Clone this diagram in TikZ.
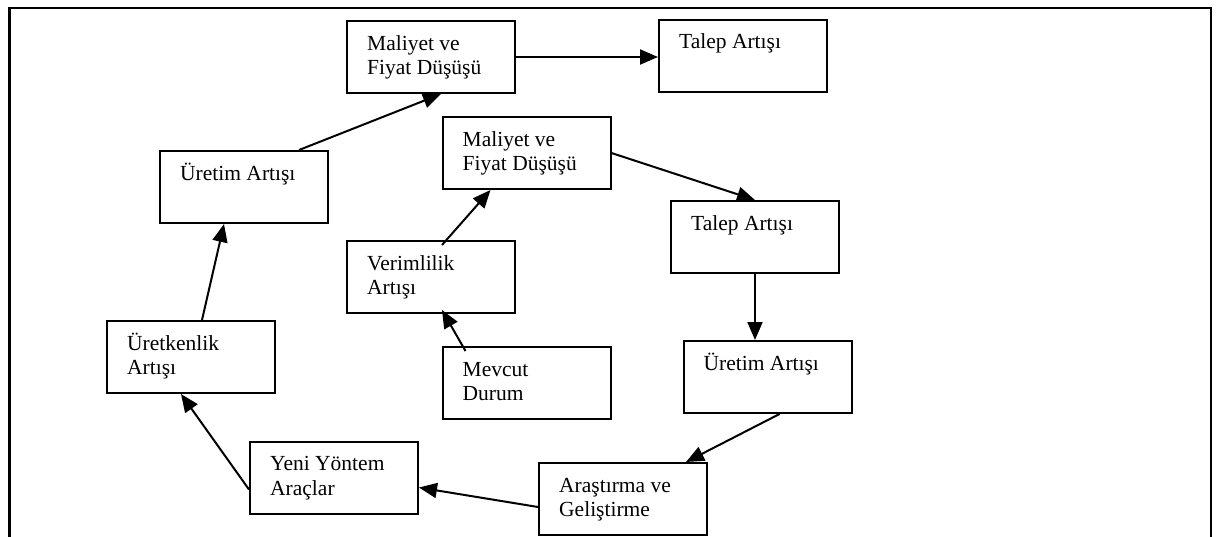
\documentclass[tikz,border=0pt]{standalone}
\usepackage{fontspec}
\setmainfont{Liberation Serif}
\usetikzlibrary{arrows.meta}
\newcommand\mylines[1]{\begin{tabular}[t]{@{}l@{}}#1\end{tabular}}
\tikzset{
  box/.style={draw, line width=2pt, minimum width=168pt, minimum height=72pt, inner sep=0pt},
  txt/.style={anchor=base west, inner sep=0pt, font=\fontsize{21.5}{24.5}\selectfont},
  arr/.style={line width=2pt, -{Triangle[length=18pt,width=15pt]}},
  frame/.style={line width=2.2pt}
}
\begin{document}
\begin{tikzpicture}[x=1pt,y=-1pt]
\useasboundingbox (0,0) rectangle (1217,536);
\draw[frame] (9.5,545) -- (9.5,8) -- (1211,8) -- (1211,545);
% boxes
\node[box] (mt) at (431,57) {};
\node[box] (tt) at (743,55.5) {};
\node[box] (ul) at (244,187) {};
\node[box] (mi) at (526.5,153) {};
\node[box] (ti) at (755,237) {};
\node[box] (v)  at (431,277) {};
\node[box] (uk) at (191,357) {};
\node[box] (mc) at (526.5,383) {};
\node[box] (ui) at (767.5,377) {};
\node[box] (yy) at (334,477.5) {};
\node[box] (ar) at (623,499) {};
% texts
\node[txt] (mt-t) at ([xshift=21pt,yshift=-30pt]mt.north west) {\mylines{Maliyet ve\\Fiyat Düşüşü}};
\node[txt] (tt-t) at ([xshift=21pt,yshift=-30pt]tt.north west) {\mylines{Talep Artışı}};
\node[txt] (ul-t) at ([xshift=21pt,yshift=-30pt]ul.north west) {\mylines{Üretim Artışı}};
\node[txt] (mi-t) at ([xshift=21pt,yshift=-30pt]mi.north west) {\mylines{Maliyet ve\\Fiyat Düşüşü}};
\node[txt] (ti-t) at ([xshift=21pt,yshift=-30pt]ti.north west) {\mylines{Talep Artışı}};
\node[txt] (v-t)  at ([xshift=21pt,yshift=-30pt]v.north west)  {\mylines{Verimlilik\\Artışı}};
\node[txt] (uk-t) at ([xshift=21pt,yshift=-30pt]uk.north west) {\mylines{Üretkenlik\\Artışı}};
\node[txt] (mc-t) at ([xshift=21pt,yshift=-30pt]mc.north west) {\mylines{Mevcut\\Durum}};
\node[txt] (ui-t) at ([xshift=21pt,yshift=-30pt]ui.north west) {\mylines{Üretim Artışı}};
\node[txt] (yy-t) at ([xshift=21pt,yshift=-30pt]yy.north west) {\mylines{Yeni Yöntem\\Araçlar}};
\node[txt] (ar-t) at ([xshift=21pt,yshift=-30pt]ar.north west) {\mylines{Araştırma ve\\Geliştirme}};
% arrows
\draw[arr] ([xshift=-30pt]ul.north east) -- ([xshift=10pt]mt.south);
\draw[arr] (mt.east) -- (mt.east -| tt.west);
\draw[arr] (mi.east) -- (ti.north);
\draw[arr] (ti.south) -- (ti.south |- ui.north);
\draw[arr] ([xshift=12pt]ui.south) -- ([xshift=-22pt]ar.north east);
\draw[arr] ([yshift=-8pt]ar.west) -- ([yshift=-10pt]yy.east);
\draw[arr] ([yshift=-12pt]yy.west) -- ([xshift=-10pt]uk.south);
\draw[arr] ([xshift=11pt]uk.north) -- ([xshift=-20pt]ul.south);
\draw[arr] ([xshift=24pt,yshift=-5pt]mc.north west) -- ([xshift=11pt,yshift=4pt]v.south);
\draw[arr] ([xshift=11pt,yshift=-5pt]v.north) -- ([xshift=-36pt]mi.south);
\end{tikzpicture}
\end{document}
